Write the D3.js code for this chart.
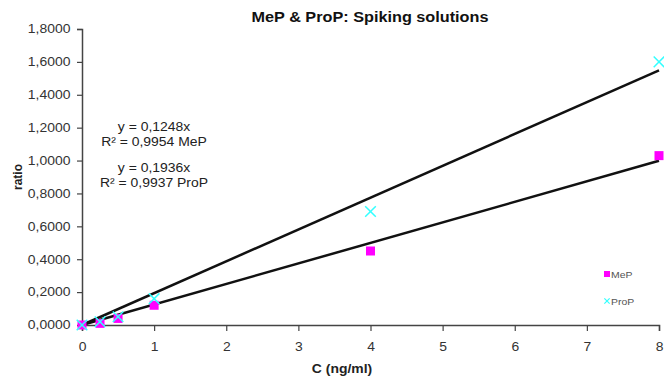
<!DOCTYPE html>
<html>
<head>
<meta charset="utf-8">
<script src="https://cdn.jsdelivr.net/npm/d3@7"></script>
<style>
  body { margin: 0; background: #fff; }
  svg { font-family: "Liberation Sans", Arial, sans-serif; }
</style>
</head>
<body>
<div id="chart"></div>
<script>
// data
var concMeP = [0, 0.25, 0.5, 1, 4, 8];
var ratioMeP = [0, 0.01, 0.04, 0.12, 0.45, 1.03];
var concProP = [0, 0.25, 0.5, 1, 4, 8];
var ratioProP = [0, 0.02, 0.05, 0.16, 0.69, 1.60];
var slopes = [0.1248, 0.1936];
var fitLabels = [["y = 0,1248x", "R\u00b2 = 0,9954 MeP"], ["y = 0,1936x", "R\u00b2 = 0,9937 ProP"]];
var yTicks = [0, 0.2, 0.4, 0.6, 0.8, 1.0, 1.2, 1.4, 1.6, 1.8];
var xTicks = [0, 1, 2, 3, 4, 5, 6, 7, 8];

var W = 664, H = 383;
var sx = 1.16; // the original's text is drawn a bit wide
var margin = { top: 29, right: 5, bottom: 58, left: 82 };
var width = W - margin.left - margin.right;
var height = H - margin.top - margin.bottom;

var svg = d3.select("#chart").append("svg")
  .attr("width", W).attr("height", H);

var g = svg.append("g")
  .attr("transform", "translate(" + margin.left + "," + margin.top + ")");

var x = d3.scaleLinear().domain([0, 8]).range([0, 577]);
var y = d3.scaleLinear().domain([0, 1.8]).range([height, 0]);

var fmt = function (d) { return d3.format(".4f")(d).replace(".", ","); };

// axes
var yAxis = g.append("g")
  .call(d3.axisLeft(y).tickValues(yTicks).tickFormat(fmt).tickSize(5).tickPadding(5));
var xAxis = g.append("g")
  .attr("transform", "translate(0," + height + ")")
  .call(d3.axisBottom(x).tickValues(xTicks).tickSize(6).tickPadding(11));

[xAxis, yAxis].forEach(function (a) {
  a.select(".domain").attr("stroke", "#444").attr("stroke-width", 1.5);
  a.selectAll(".tick line").attr("stroke", "#444").attr("stroke-width", 1.2);
  a.selectAll("text").attr("fill", "#333").style("font-size", "12px")
    .attr("transform", "scale(" + sx + ",1)");
});

// trend lines
slopes.forEach(function (s) {
  g.append("line")
    .attr("x1", x(0)).attr("y1", y(0))
    .attr("x2", x(8)).attr("y2", y(s * 8))
    .attr("stroke", "#111").attr("stroke-width", 2.5);
});

// MeP squares
g.selectAll(".mep").data(concMeP).enter().append("rect")
  .attr("x", function (d) { return x(d) - 4.5; })
  .attr("y", function (d, i) { return y(ratioMeP[i]) - 4.5; })
  .attr("width", 9).attr("height", 9)
  .attr("fill", "#ff00ff");

// ProP crosses
var cross = d3.symbol().type(d3.symbolX).size(75);
g.selectAll(".prop").data(concProP).enter().append("path")
  .attr("d", cross)
  .attr("transform", function (d, i) { return "translate(" + x(d) + "," + y(ratioProP[i]) + ")"; })
  .attr("fill", "none").attr("stroke", "#33ffff").attr("stroke-width", 1.5);

function label(t, px, py, size, bold, anchor, fill) {
  return svg.append("text")
    .attr("transform", "translate(" + px + "," + py + ") scale(" + sx + ",1)")
    .attr("text-anchor", anchor || "middle")
    .attr("fill", fill || "#222")
    .style("font-size", size + "px")
    .style("font-weight", bold ? "bold" : "normal")
    .text(t);
}

// fit equations
var eqY = [131, 146, 172, 187];
fitLabels.forEach(function (pair, k) {
  pair.forEach(function (t, j) {
    label(t, 154, eqY[k * 2 + j], 12, false);
  });
});

// legend
svg.append("rect").attr("x", 604).attr("y", 271).attr("width", 6).attr("height", 6).attr("fill", "#ff00ff");
label("MeP", 611, 278, 9, false, "start", "#555");
svg.append("path").attr("d", d3.symbol().type(d3.symbolX).size(20))
  .attr("transform", "translate(607,301)").attr("stroke", "#33ffff").attr("stroke-width", 1.2);
label("ProP", 611, 305, 9, false, "start", "#555");

// titles
label("MeP & ProP: Spiking solutions", 370, 22, 14, true, "middle", "#111");
label("C (ng/ml)", 342, 373, 12, true);
svg.append("text").attr("transform", "translate(22,177) rotate(-90)").attr("text-anchor", "middle")
  .style("font-size", "12px").style("font-weight", "bold").attr("fill", "#222")
  .text("ratio");
</script>
</body>
</html>
